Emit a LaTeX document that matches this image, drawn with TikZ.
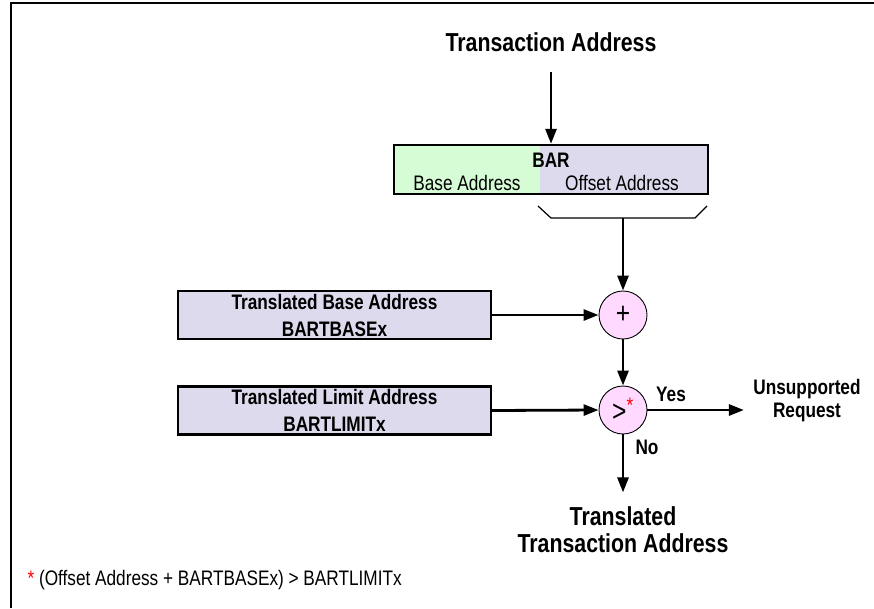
\documentclass[tikz,border=0pt]{standalone}
\usepackage{fontspec}
\setmainfont{Liberation Sans}[FakeStretch=0.82]
\usetikzlibrary{arrows.meta}
\definecolor{bargreen}{HTML}{D6FCD6}
\definecolor{barblue}{HTML}{DCDAEC}
\definecolor{oppink}{HTML}{FFD9FF}

\begin{document}
\begin{tikzpicture}[x=1pt,y=-1pt,
  flow/.style={line width=2.8pt,-{Triangle[length=15pt,width=11pt]}},
  regbox/.style={draw,line width=2.4pt,fill=barblue,minimum width=313pt,minimum height=48pt,inner sep=0pt,align=center,font=\fontsize{21}{27}\selectfont\bfseries},
  opnode/.style={circle,draw,line width=0.9pt,fill=oppink,minimum size=48pt,inner sep=0pt,font=\fontsize{30}{30}\selectfont},
  big/.style={align=center,font=\fontsize{26}{27}\selectfont\bfseries},
  lbl/.style={font=\fontsize{21}{23}\selectfont\bfseries},
  fld/.style={font=\fontsize{21}{23}\selectfont}]
    \useasboundingbox (0,0) rectangle (874,608);
    \draw [line width=2.6pt] (11,608) -- (11,3) -- (874,3);
    \node [big] (src) at (551,42) {Transaction Address};
    \node [draw, line width=2.4pt, minimum width=314pt, minimum height=49pt, inner sep=0pt,
      path picture={
        \fill [bargreen] (path picture bounding box.south west) rectangle ([xshift=146pt]path picture bounding box.north west);
        \fill [barblue] ([xshift=146pt]path picture bounding box.south west) rectangle (path picture bounding box.north east);
      }] (bar) at (551,169.5) {};
    \node [lbl] (barname) at (551,160) {BAR};
    \node [fld] (basefld) at (467,183) {Base Address};
    \node [fld] (offfld) at (622,183) {Offset Address};
    \draw [flow] (src.south) ++(0,17) -- (bar.north);
    \draw [line width=1.2pt] (538,206) -- (551,218) -- (695,218) -- (707,206);
    \coordinate (brk) at (623,218);
    \node [opnode] (add) at (623,315) {+};
    \node [opnode] (cmp) at (623,410) {>\textsuperscript{\color{red}*}};
    \node [regbox] (tbase) at (334.5,315) {Translated Base Address\\BARTBASEx};
    \node [regbox] (tlimit) at (334.5,410.5) {Translated Limit Address\\BARTLIMITx};
    \node [lbl, align=center] (ureq) at (807,401) {Unsupported\\Request};
    \node [lbl] (yes) at (671,394) {Yes};
    \node [lbl] (no) at (647,447) {No};
    \node [big] (dst) at (623,530) {Translated\\Transaction Address};
    \draw [flow] (brk) -- (add.north);
    \draw [flow] (tbase.east) -- (add.west);
    \draw [flow] (tlimit.east) -- (cmp.west);
    \draw [flow] (add.south) -- (cmp.north);
    \draw [flow] (cmp.east) -- ([xshift=-6pt]ureq.west |- cmp.east);
    \draw [flow] (cmp.south) -- ([yshift=11pt]dst.north);
    \node [fld, anchor=west] (note) at (24,580) {\textcolor{red}{*} (Offset Address + BARTBASEx) > BARTLIMITx};
\end{tikzpicture}
\end{document}
